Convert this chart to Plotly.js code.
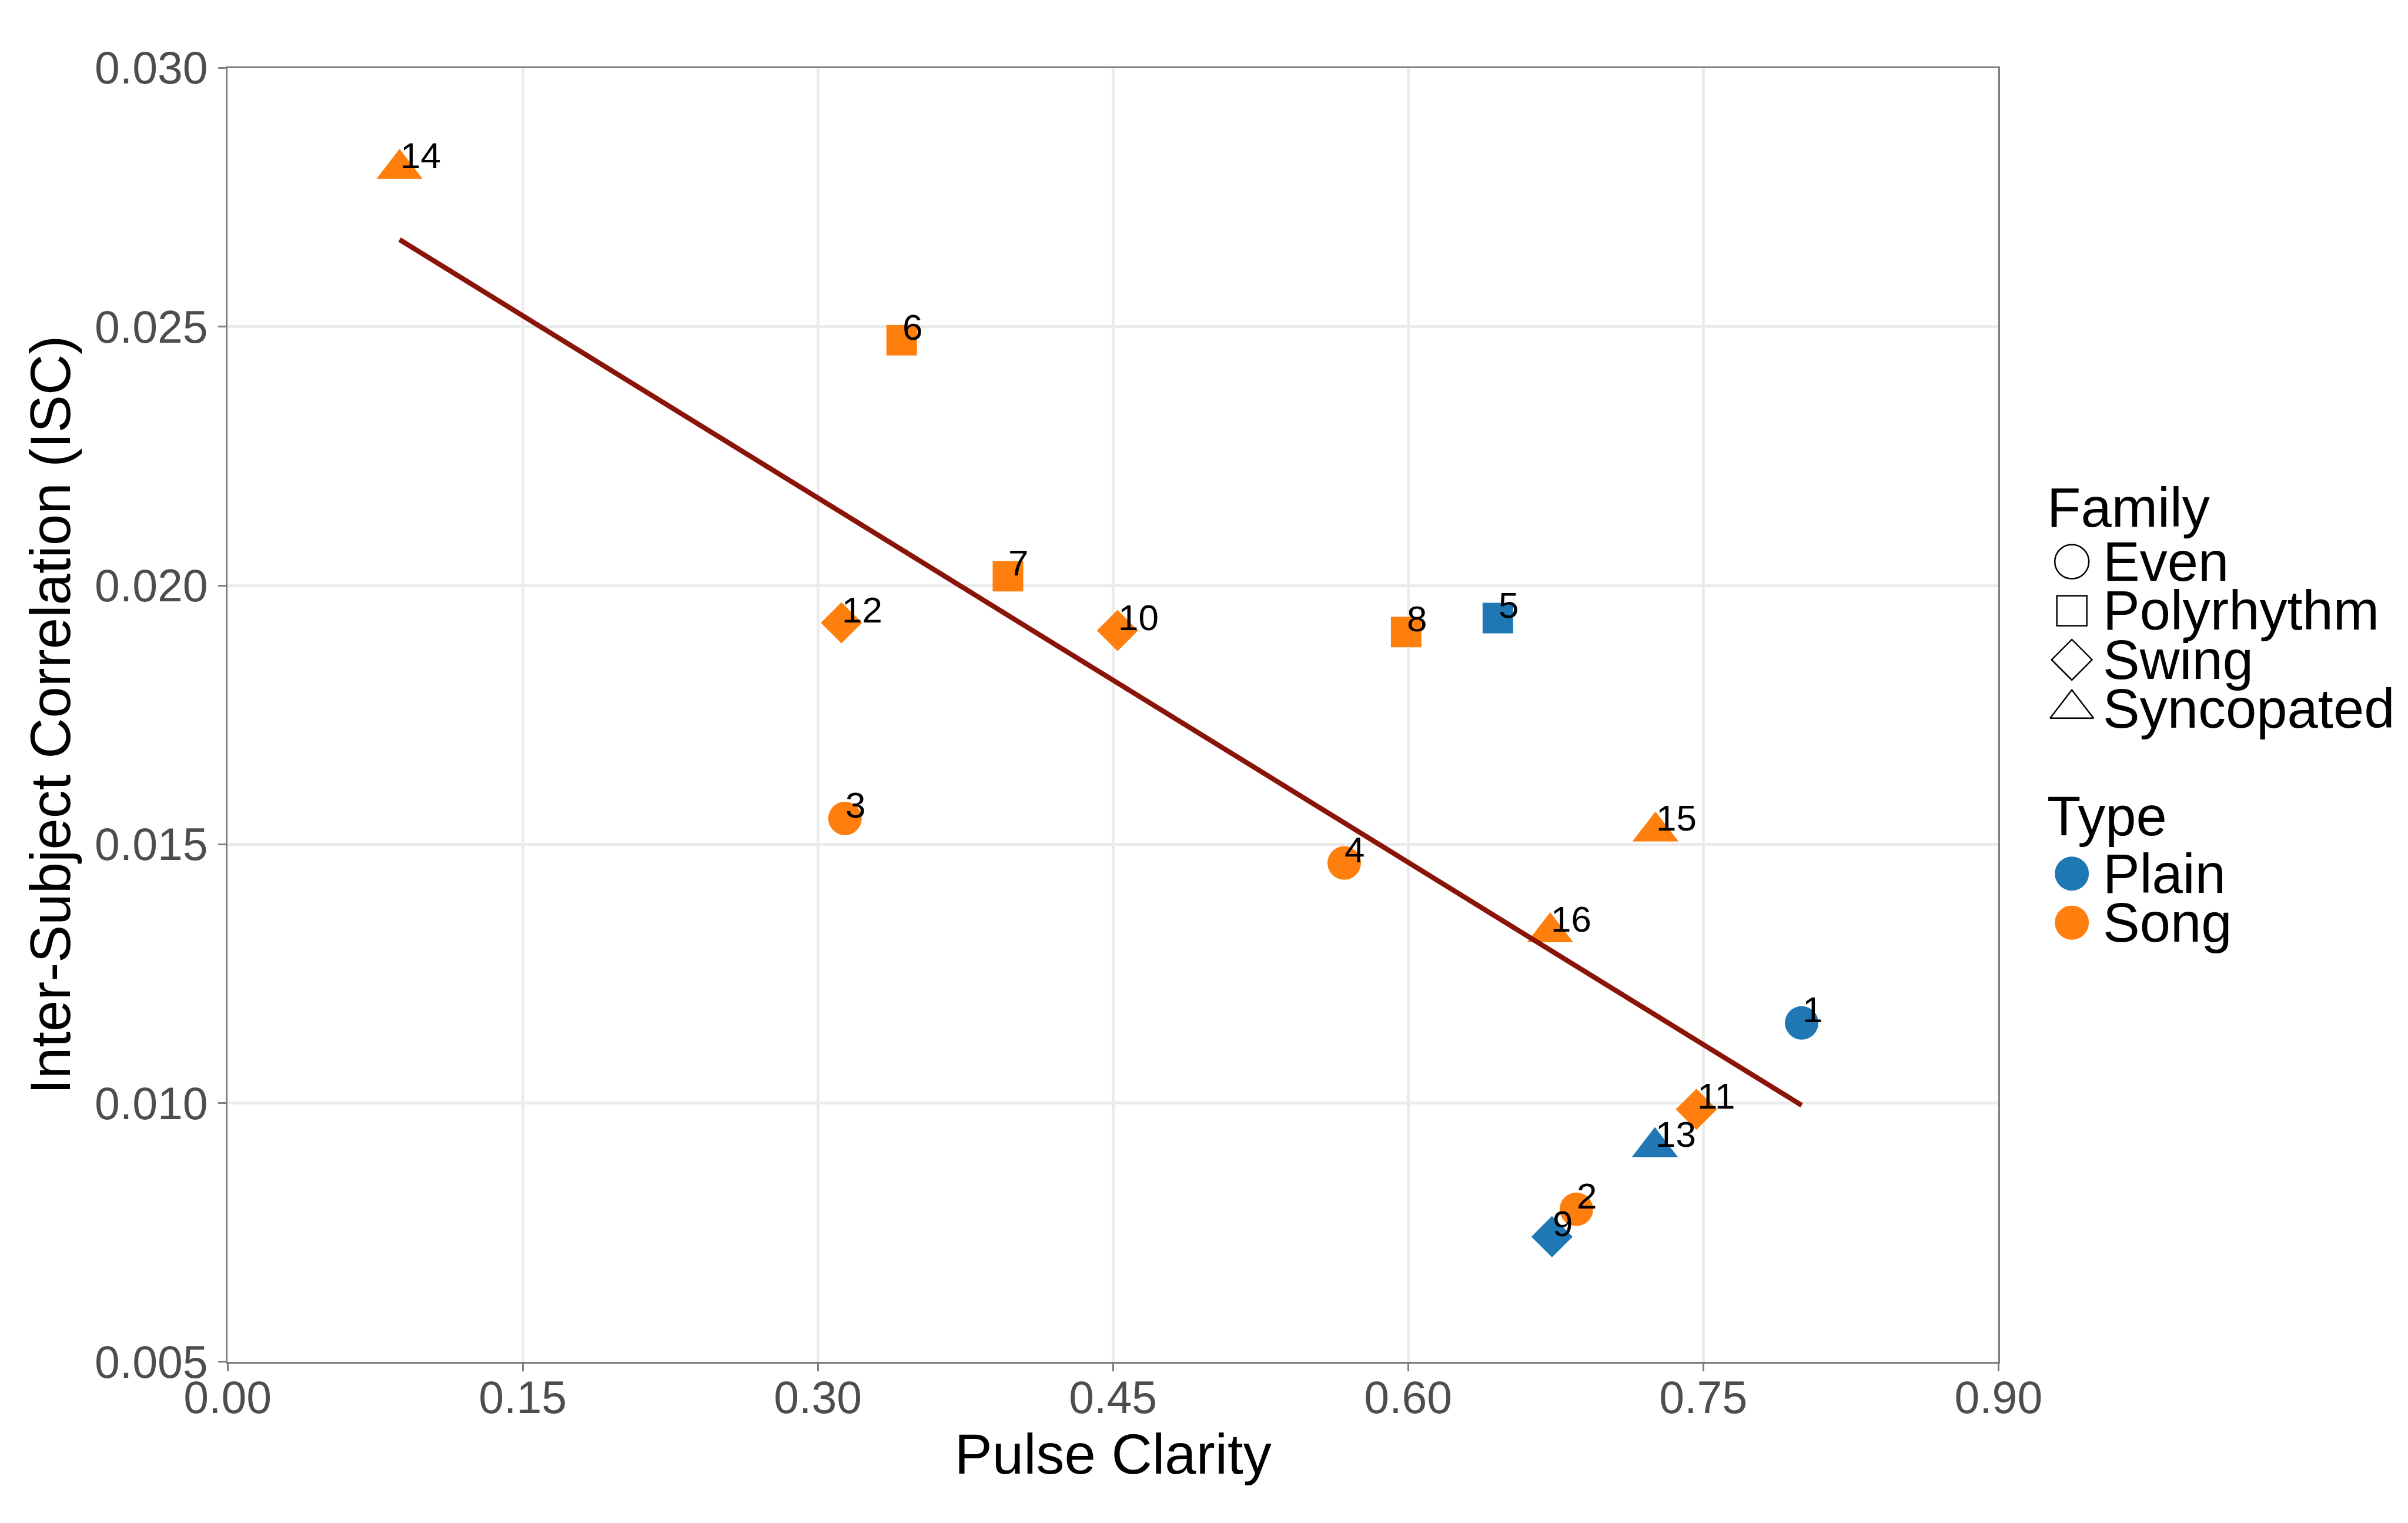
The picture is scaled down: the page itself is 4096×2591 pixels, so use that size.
<!DOCTYPE html>
<html>
<head>
<meta charset="utf-8">
<script src="https://cdn.plot.ly/plotly-3.0.1.min.js"></script>
<style>
html,body{margin:0;padding:0;background:#ffffff;}
#chart{width:4096px;height:2591px;}
</style>
</head>
<body>
<div id="chart"></div>
<script>
// ---------------- data ----------------
const pieceIds = ['1','2','3','4','5','6','7','8','9','10','11','12','13','14','15','16'];
const pulseClarity = [0.8000, 0.6855, 0.3138, 0.5675, 0.6456, 0.3426, 0.3966, 0.5990, 0.6731, 0.4523, 0.7465, 0.3120, 0.7254, 0.0874, 0.7257, 0.6722];
const iscValues = [0.01155, 0.00795, 0.01550, 0.01464, 0.01937, 0.02474, 0.02018, 0.01910, 0.00742, 0.01913, 0.00988, 0.01928, 0.00915, 0.02805, 0.01525, 0.01330];
const familyOf = ['Even','Even','Even','Even','Polyrhythm','Polyrhythm','Polyrhythm','Polyrhythm','Swing','Swing','Swing','Swing','Syncopated','Syncopated','Syncopated','Syncopated'];
const typeOf = ['Plain','Song','Song','Song','Plain','Song','Song','Song','Plain','Song','Song','Song','Plain','Song','Song','Song'];
const familyNames = ['Even','Polyrhythm','Swing','Syncopated'];
const typeNames = ['Plain','Song'];
const xTickVals = [0, 0.15, 0.30, 0.45, 0.60, 0.75, 0.90];
const xTickText = ['0.00','0.15','0.30','0.45','0.60','0.75','0.90'];
const yTickVals = [0.005, 0.010, 0.015, 0.020, 0.025, 0.030];
const yTickText = ['0.005','0.010','0.015','0.020','0.025','0.030'];

// ---------------- styles ----------------
const FONT = 'Liberation Sans, Arial, Helvetica, sans-serif';
const familySymbol = {Even:'circle', Polyrhythm:'square', Swing:'diamond', Syncopated:'triangle-up'};
const familySize = {Even:57, Polyrhythm:52, Swing:54, Syncopated:68};
const legendSize = {Even:58, Polyrhythm:51, Swing:53, Syncopated:64};
const typeColor = {Plain:'#1F77B4', Song:'#FF7F0E'};

// ---------------- linear fit (OLS) ----------------
const n = pulseClarity.length;
const mx = pulseClarity.reduce((a,b)=>a+b,0)/n;
const my = iscValues.reduce((a,b)=>a+b,0)/n;
let sxy = 0, sxx = 0;
for (let i=0;i<n;i++){ sxy += (pulseClarity[i]-mx)*(iscValues[i]-my); sxx += (pulseClarity[i]-mx)**2; }
const slope = sxy/sxx, intercept = my - slope*mx;
const fitX = [Math.min(...pulseClarity), Math.max(...pulseClarity)];
const fitY = fitX.map(x => intercept + slope*x);

const traces = [];
traces.push({
  type:'scatter', mode:'markers', x:pulseClarity, y:iscValues, xaxis:'x', yaxis:'y',
  marker:{
    symbol: familyOf.map(f=>familySymbol[f]),
    size: familyOf.map(f=>familySize[f]),
    color: typeOf.map(t=>typeColor[t]),
    opacity:1,
    line:{width:0}
  },
  hoverinfo:'skip', showlegend:false, cliponaxis:false
});
traces.push({
  type:'scatter', mode:'lines', x:fitX, y:fitY, xaxis:'x', yaxis:'y',
  line:{color:'#8B1408', width:8.5}, hoverinfo:'skip', showlegend:false
});

// ---------------- manual legend (ggplot style) ----------------
const legSymX = 0.8604;
const legTextX = 0.8728;
const legTitleX = 0.8496;
const famTop = 0.6312, typeTop = 0.4264, legStep = 0.0322;
const famY = familyNames.map((_,i)=>famTop - i*legStep);
const typeY = typeNames.map((_,i)=>typeTop - i*legStep);
traces.push({
  type:'scatter', mode:'markers', xaxis:'x2', yaxis:'y2',
  x: familyNames.map(()=>legSymX), y: famY,
  marker:{symbol: familyNames.map(f=>familySymbol[f]+'-open'), size: familyNames.map(f=>legendSize[f]),
          color:'#000000', opacity:1, line:{width:2.5, color:'#000000'}},
  hoverinfo:'skip', showlegend:false
});
traces.push({
  type:'scatter', mode:'markers', xaxis:'x2', yaxis:'y2',
  x: typeNames.map(()=>legSymX), y: typeY,
  marker:{symbol:'circle', size:58, color: typeNames.map(t=>typeColor[t]), opacity:1, line:{width:0}},
  hoverinfo:'skip', showlegend:false
});

const annotations = [];
pieceIds.forEach((id,i)=>{
  annotations.push({x:pulseClarity[i], y:iscValues[i], xref:'x', yref:'y', text:id, showarrow:false,
    xanchor:'left', yanchor:'bottom', xshift:-1, yshift:-14, font:{family:FONT, size:62, color:'#000000'}});
});
annotations.push({x:legTitleX, y:famTop+legStep*1.1, xref:'paper', yref:'paper', text:'Family', showarrow:false,
  xanchor:'left', yanchor:'middle', font:{family:FONT, size:94, color:'#000000'}});
familyNames.forEach((f,i)=>annotations.push({x:legTextX, y:famY[i], xref:'paper', yref:'paper', text:f, showarrow:false,
  xanchor:'left', yanchor:'middle', font:{family:FONT, size:94, color:'#000000'}}));
annotations.push({x:legTitleX, y:typeTop+legStep*1.17, xref:'paper', yref:'paper', text:'Type', showarrow:false,
  xanchor:'left', yanchor:'middle', font:{family:FONT, size:94, color:'#000000'}});
typeNames.forEach((t,i)=>annotations.push({x:legTextX, y:typeY[i], xref:'paper', yref:'paper', text:t, showarrow:false,
  xanchor:'left', yanchor:'middle', font:{family:FONT, size:94, color:'#000000'}}));

const axisCommon = {
  showline:true, mirror:true, linecolor:'#7F7F7F', linewidth:3,
  ticks:'outside', ticklen:13, tickwidth:3, tickcolor:'#7F7F7F',
  showgrid:true, gridcolor:'#EBEBEB', gridwidth:5, zeroline:false,
  tickfont:{family:FONT, size:77, color:'#4D4D4D'}, automargin:false, fixedrange:true
};

const layout = {
  width:4096, height:2591,
  margin:{l:0, r:0, t:0, b:0, pad:0},
  paper_bgcolor:'#ffffff', plot_bgcolor:'rgba(0,0,0,0)',
  showlegend:false,
  font:{family:FONT},
  xaxis: Object.assign({}, axisCommon, {
    domain:[0.09451, 0.82991], range:[0, 0.9], tickmode:'array', tickvals:xTickVals, ticktext:xTickText,
    ticklabelstandoff:-21,
    title:{text:'Pulse Clarity', font:{family:FONT, size:96, color:'#000000'}, standoff:0}
  }),
  yaxis: Object.assign({}, axisCommon, {
    domain:[0.10575, 0.95542], range:[0.005, 0.030], tickmode:'array', tickvals:yTickVals, ticktext:yTickText,
    ticklabelstandoff:2,
    title:{text:'Inter-Subject Correlation (ISC)', font:{family:FONT, size:96, color:'#000000'}, standoff:10}
  }),
  xaxis2:{domain:[0,1], range:[0,1], anchor:'y2', visible:false, fixedrange:true},
  yaxis2:{domain:[0,1], range:[0,1], anchor:'x2', visible:false, fixedrange:true},
  annotations: annotations
};

Plotly.newPlot('chart', traces, layout, {staticPlot:true, displayModeBar:false});
</script>
</body>
</html>
